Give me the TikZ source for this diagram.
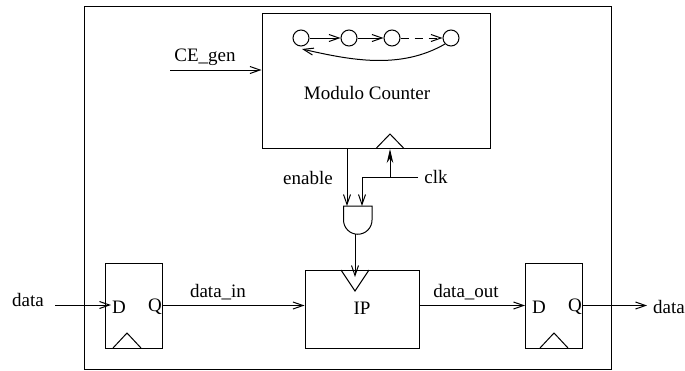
\documentclass[tikz,border=0pt]{standalone}
\usepackage{fontspec}
\setmainfont{Liberation Serif}
\usetikzlibrary{arrows.meta}

\tikzset{
    wire/.style = {-{Straight Barb[length=10pt,width=7pt]}},
    bigtip/.style = {-{Stealth[length=14pt,width=6.5pt]}},
    box/.style = {draw=black, inner sep=0pt},
    state/.style = {draw=black, circle, inner sep=0pt, minimum size=16pt},
    label/.style = {font={\fontsize{19}{21}\selectfont}, black, inner sep=0pt}
}

\begin{document}
\begin{tikzpicture}[x=1pt, y=-1pt, line width=1pt]
        \useasboundingbox (0, 0) rectangle (685, 370);

        \node[box, minimum width=527pt, minimum height=363pt] (chip) at (347.5, 187.5) {};


        \node[box, minimum width=228pt, minimum height=135pt] (counter) at (376, 81) {};
        \node[box, minimum width=57pt, minimum height=85pt] (ff_in) at (134, 305.5) {};
        \node[box, minimum width=114pt, minimum height=78pt] (ip) at (362, 309) {};
        \node[box, minimum width=57pt, minimum height=85pt] (ff_out) at (554, 305.5) {};

        \draw (376, 148.5) -- (390, 134) -- (404, 148.5);
        \draw (113, 348) -- (127, 333) -- (141, 348);
        \draw (540, 348) -- (554, 333) -- (568, 348);
        \draw (341, 270) -- (355, 291) -- (369, 270);


        \node[state] (s_a) at (301, 38) {};
        \node[state] (s_b) at (349, 38) {};
        \node[state] (s_c) at (392, 38) {};
        \node[state] (s_d) at (451, 38) {};
        \coordinate (s_back) at (302, 49);

        \draw[wire] (s_a) -- (s_b);
        \draw[wire] (s_b) -- (s_c);
        \draw[wire, dash pattern=on 8pt off 6pt] (s_c) -- (s_d);
        \draw[wire] (s_d.south west) .. controls (400, 70) and (350, 60) .. (s_back);


        \node[label] (modulo) at (367, 93) {Modulo Counter};
        \node[label] (ip_name) at (362, 308) {IP};
        \node[label] (ce_name) at (205, 57) {CE\_gen};
        \node[label] (enable) at (308, 178) {enable};
        \node[label] (clk) at (436, 177) {clk};
        \node[label] (data_l) at (28, 300) {data};
        \node[label] (data_in) at (218, 292) {data\_in};
        \node[label] (data_out) at (466, 292) {data\_out};
        \node[label] (data_r) at (669, 307) {data};
        \node[label] (d_in) at (119, 307) {D};
        \node[label] (q_in) at (155, 307) {Q};
        \node[label] (d_out) at (539, 307) {D};
        \node[label] (q_out) at (575, 307) {Q};


        \draw (343.5, 206) -- (372, 206) -- (372, 220)
              arc[start angle=0, end angle=180, radius=14.25] -- cycle;
        \coordinate (gate_a) at (347, 206);
        \coordinate (gate_b) at (362, 206);
        \coordinate (gate_o) at (355, 234);
        \coordinate (ip_clk) at (355, 277);
        \coordinate (clk_start) at (418, 177);
        \coordinate (clk_bend) at (362, 177);
        \coordinate (clk_join) at (390, 177);
        \coordinate (ce_start) at (170, 70);
        \coordinate (data_start) at (55, 305);
        \coordinate (data_end) at (111, 305);
        \coordinate (data_stop) at (647, 305.5);


        \draw[wire] (ce_start) -- (ce_start -| counter.west);
        \draw[wire] (gate_a |- counter.south) -- (gate_a);
        \draw[wire] (clk_start) -- (clk_bend) -- (gate_b);
        \draw[bigtip] (clk_join) -- (clk_join |- counter.south);
        \draw[wire] (gate_o) -- (ip_clk);
        \draw[wire] (data_start) -- (data_end);
        \draw[wire] (ff_in.east) -- (ff_in.east -| ip.west);
        \draw[wire] (ff_out.west -| ip.east) -- (ff_out.west);
        \draw[wire] (ff_out.east) -- (data_stop);
    \end{tikzpicture}
\end{document}
